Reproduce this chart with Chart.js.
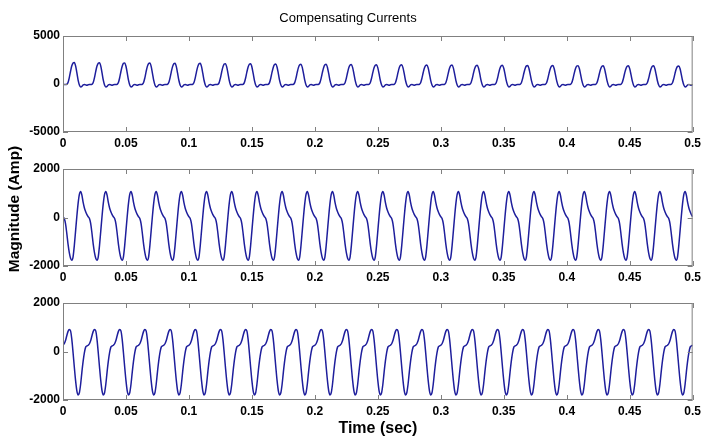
<!DOCTYPE html>
<html>
<head>
<meta charset="utf-8">
<script src="https://cdn.jsdelivr.net/npm/chart.js@4.4.1/dist/chart.umd.min.js"></script>
<style>
  html, body { margin: 0; padding: 0; background: #fff; }
  #wrap { position: relative; width: 705px; height: 438px; }
  #wrap canvas { position: absolute; left: 0; top: 0; }
</style>
</head>
<body>
<div id="wrap">
  <canvas id="c1" width="705" height="438"></canvas>
  <canvas id="c2" width="705" height="438"></canvas>
  <canvas id="c3" width="705" height="438"></canvas>
</div>
<script>
// tick labels
const timeTicks = [0, 0.05, 0.1, 0.15, 0.2, 0.25, 0.3, 0.35, 0.4, 0.45, 0.5];
const topTicks = [-5000, 0, 5000];
const midTicks = [-2000, 0, 2000];
const lowTicks = [-2000, 0, 2000];

// one 20 ms period of each current, every 1 ms (Amp)
const topCycle = [-80, -60, -60, -30, 150, 650, 1300, 1850, 2150, 2200,
                  1850, 1150, 400, -100, -300, -250, -80, -50, -90, -120];
const midCycle = [30, -40, -250, -650, -1100, -1450, -1680, -1760, -1620, -1150,
                  -550, 50, 580, 950, 1070, 920, 620, 390, 240, 120];
const lowCycle = [260, 320, 450, 650, 830, 910, 850, 500, -50, -650,
                  -1200, -1620, -1790, -1700, -1350, -850, -400, -50, 180, 230];
// height of each of the 25 pulses of the top trace
const topPeaks = [2250, 2220, 2200, 2180, 2150, 2150, 2120, 2100, 2080, 2060, 2050, 2030, 2000,
                  2000, 1980, 1970, 1950, 1950, 1930, 1920, 1910, 1900, 1900, 1890, 1880];

const nCycles = 25;
const step = 0.001;

function buildSeries(cycle, peaks) {
  const top = Math.max(...cycle);
  const pts = [];
  for (let k = 0; k < nCycles; k++) {
    const gain = peaks ? peaks[k] / top : 1;
    cycle.forEach((v, i) => {
      pts.push({ x: +((k * cycle.length + i) * step).toFixed(3), y: v > 0 ? v * gain : v });
    });
  }
  pts.push({ x: 0.5, y: cycle[0] });
  return pts;
}

const boxColor = '#808080';
const tickFont = { family: 'Liberation Sans, Arial, sans-serif', size: 12, weight: 'bold' };

// matlab style box with inward ticks on all four sides
const boxPlugin = {
  id: 'box',
  afterDatasetsDraw(chart) {
    const { ctx, chartArea: a, scales: { x, y } } = chart;
    ctx.save();
    ctx.strokeStyle = boxColor;
    ctx.lineWidth = 1;
    ctx.beginPath();
    x.ticks.forEach(t => {
      const px = Math.round(x.getPixelForValue(t.value)) + 0.5;
      ctx.moveTo(px, a.bottom); ctx.lineTo(px, a.bottom - 5);
      ctx.moveTo(px, a.top); ctx.lineTo(px, a.top + 5);
    });
    y.ticks.forEach(t => {
      const py = Math.round(y.getPixelForValue(t.value)) + 0.5;
      ctx.moveTo(a.left, py); ctx.lineTo(a.left + 5, py);
      ctx.moveTo(a.right, py); ctx.lineTo(a.right - 5, py);
    });
    ctx.stroke();
    ctx.strokeRect(a.left + 0.5, a.top + 0.5, a.width - 1, a.height - 1);
    ctx.restore();
  }
};

const yLabelPlugin = {
  id: 'ylabel',
  afterDraw(chart) {
    const ctx = chart.ctx;
    ctx.save();
    ctx.translate(15, 209);
    ctx.rotate(-Math.PI / 2);
    ctx.font = 'bold 15.5px "Liberation Sans", Arial, sans-serif';
    ctx.fillStyle = '#000';
    ctx.textAlign = 'center';
    ctx.textBaseline = 'middle';
    ctx.fillText('Magnitude (Amp)', 0, 0);
    ctx.restore();
  }
};

function makeChart(id, data, yTicks, pad, xHeight, extra) {
  const opts = {
    responsive: false,
    animation: false,
    layout: { padding: pad, autoPadding: false },
    plugins: { legend: { display: false }, tooltip: { enabled: false }, title: { display: false } },
    scales: {
      x: {
        type: 'linear', min: 0, max: 0.5,
        afterBuildTicks: ax => { ax.ticks = timeTicks.map(v => ({ value: v })); },
        afterFit: ax => { ax.height = xHeight; },
        grid: { display: false, drawTicks: false },
        border: { display: false },
        ticks: { color: '#000', font: tickFont, padding: 4, maxRotation: 0, autoSkip: false,
                 callback: v => String(+v.toFixed(2)) }
      },
      y: {
        min: yTicks[0], max: yTicks[yTicks.length - 1],
        afterBuildTicks: ax => { ax.ticks = yTicks.map(v => ({ value: v })); },
        afterFit: ax => { ax.width = 63; },
        grid: { display: false, drawTicks: false },
        border: { display: false },
        ticks: { color: '#000', font: tickFont, padding: 3, callback: v => String(v) }
      }
    }
  };
  if (extra) extra(opts);
  return new Chart(document.getElementById(id), {
    type: 'line',
    data: {
      datasets: [{
        data: data,
        borderColor: '#1e1e9c',
        borderWidth: 1.5,
        pointRadius: 0,
        cubicInterpolationMode: 'monotone',
        fill: false
      }]
    },
    options: opts,
    plugins: [boxPlugin].concat(id === 'c2' ? [yLabelPlugin] : [])
  });
}

makeChart('c1', buildSeries(topCycle, topPeaks), topTicks,
  { left: 0, right: 9, top: 0, bottom: 286 }, 20, o => {
    o.plugins.title = {
      display: true, text: 'Compensating Currents', color: '#000',
      font: { family: 'Liberation Sans, Arial, sans-serif', size: 13, weight: 'normal' },
      padding: { top: 11, bottom: 9.4 }
    };
  });

makeChart('c2', buildSeries(midCycle), midTicks,
  { left: 0, right: 9, top: 169, bottom: 152 }, 20);

makeChart('c3', buildSeries(lowCycle), lowTicks,
  { left: 0, right: 9, top: 303, bottom: 0 }, 38, o => {
    o.scales.x.title = {
      display: true, text: 'Time (sec)', color: '#000',
      font: { family: 'Liberation Sans, Arial, sans-serif', size: 16, weight: 'bold' },
      padding: { top: 0, bottom: 0 }
    };
  });
</script>
</body>
</html>
